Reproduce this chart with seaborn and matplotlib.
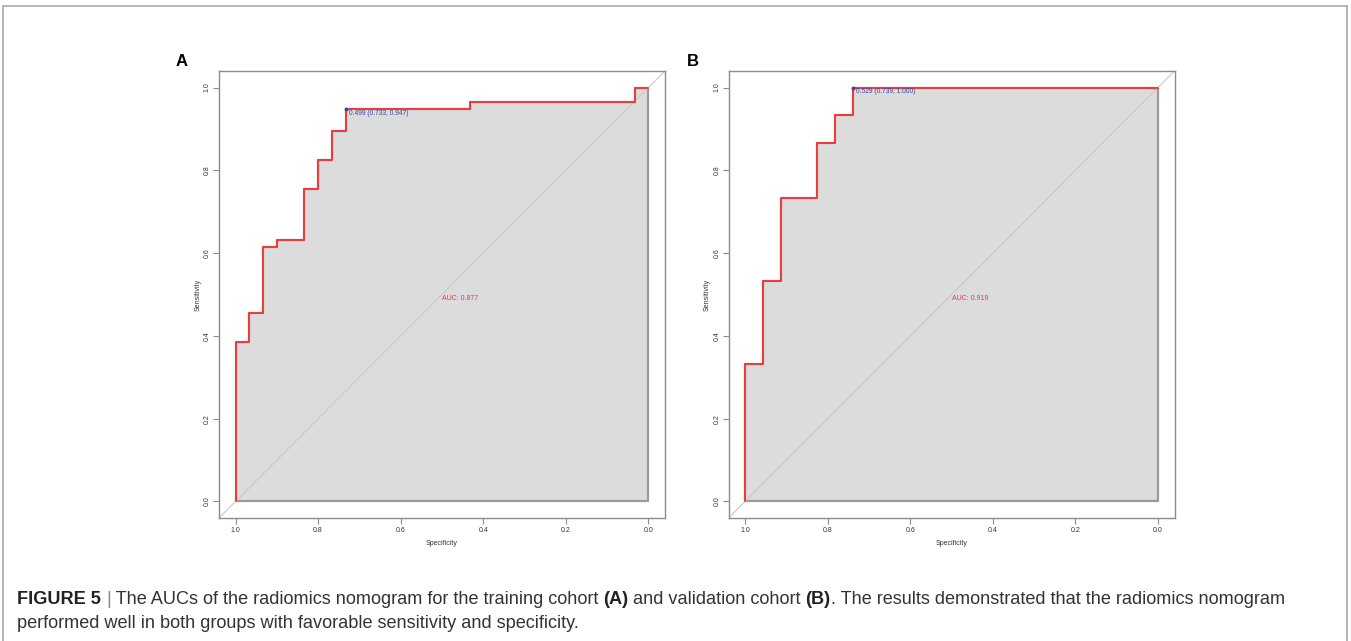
import matplotlib
matplotlib.use("Agg")
import matplotlib.pyplot as plt
import seaborn as sns
import pandas as pd
from matplotlib.lines import Line2D
from matplotlib import font_manager

# ---------------- data ----------------
spec_a = [1.000, 1.000, 0.967, 0.967, 0.933, 0.933, 0.900, 0.900, 0.833, 0.833, 0.800,
          0.800, 0.767, 0.767, 0.733, 0.733, 0.433, 0.433, 0.033, 0.033, 0.000]
sens_a = [0.000, 0.386, 0.386, 0.456, 0.456, 0.614, 0.614, 0.632, 0.632, 0.754, 0.754,
          0.825, 0.825, 0.895, 0.895, 0.947, 0.947, 0.965, 0.965, 1.000, 1.000]
spec_b = [1.000, 1.000, 0.957, 0.957, 0.913, 0.913, 0.826, 0.826, 0.783, 0.783, 0.739, 0.739, 0.000]
sens_b = [0.000, 0.333, 0.333, 0.533, 0.533, 0.733, 0.733, 0.867, 0.867, 0.933, 0.933, 1.000, 1.000]

auc_labels = ["AUC: 0.877", "AUC: 0.919"]
thres_points = [(0.733, 0.947), (0.739, 1.000)]
thres_labels = ["0.499 (0.733, 0.947)", "0.529 (0.739, 1.000)"]
panel_labels = ["A", "B"]
tick_vals = [0.0, 0.2, 0.4, 0.6, 0.8, 1.0]
tick_labels = ["0.0", "0.2", "0.4", "0.6", "0.8", "1.0"]

# ---------------- style ----------------
sns.set_theme(style="white")
plt.rcParams['font.family'] = ['Liberation Sans', 'DejaVu Sans']

W, H = 1351, 641
fig = plt.figure(figsize=(W / 100, H / 100), dpi=100)

RED = "#f03a3a"
BLUE = "#3b44a6"
FILL = "#dcdcdc"
FRAME = "#8c8c8c"


def px_axes(x0, y0, x1, y1):
    return fig.add_axes([x0 / W, 1 - y1 / H, (x1 - x0) / W, (y1 - y0) / H])


frames = [(219, 71, 665, 518), (728.5, 71, 1174.5, 518)]
curves = [(spec_a, sens_a), (spec_b, sens_b)]

for i, ((sx, sy), fr) in enumerate(zip(curves, frames)):
    ax = px_axes(*fr)
    df = pd.DataFrame({"Specificity": sx, "Sensitivity": sy})
    ax.fill_between(df["Specificity"], df["Sensitivity"], 0, color=FILL,
                    edgecolor="#9a9a9a", linewidth=1.6, zorder=1)
    ax.axline((1, 0), (0, 1), color="#c9c9c9", linewidth=0.8, zorder=2)
    sns.lineplot(data=df, x="Specificity", y="Sensitivity", sort=False,
                 estimator=None, color=RED, linewidth=1.4, ax=ax, zorder=3)
    tx, ty = thres_points[i]
    ax.plot([tx], [ty], marker="o", markersize=1.8, color=BLUE, zorder=4)
    ax.annotate(thres_labels[i], (tx, ty), xytext=(2, -0.5), textcoords="offset points",
                ha="left", va="top", fontsize=4.8, color=BLUE, zorder=5)
    ax.text(0.5, 0.5, auc_labels[i], ha="left", va="top", fontsize=5,
            color="#e8393a", zorder=5)

    ax.set_xlim(1.04, -0.04)
    ax.set_ylim(-0.04, 1.04)
    ax.set_xticks(tick_vals)
    ax.set_xticklabels(tick_labels)
    ax.set_yticks(tick_vals)
    ax.set_yticklabels(tick_labels, rotation=90, va="center")
    ax.tick_params(axis="both", which="both", length=4, width=0.8, color=FRAME,
                   labelsize=5, labelcolor="#333333", pad=2.5, direction="out",
                   bottom=True, left=True)
    ax.tick_params(axis="y", pad=1.8)
    ax.set_xlabel("Specificity", fontsize=5, color="#333333", labelpad=4)
    ax.set_ylabel("Sensitivity", fontsize=5, color="#333333", labelpad=2)
    for s in ax.spines.values():
        s.set_color(FRAME)
        s.set_linewidth(1.0)
    ax.set_facecolor("white")

fig.text(176 / W, 1 - 62 / H, panel_labels[0], fontsize=12, fontweight="bold",
         ha="left", va="center", color="black")
fig.text(687 / W, 1 - 62 / H, panel_labels[1], fontsize=12, fontweight="bold",
         ha="left", va="center", color="black")

for xs, ys in [([3, 3], [6, H]), ([3, 1347], [6, 6]), ([1347, 1347], [6, H])]:
    fig.add_artist(Line2D([x / W for x in xs], [1 - y / H for y in ys],
                          color="#aaaaaa", linewidth=1.2))

# caption with mixed weights, auto-fit to the reference width
available = {f.name for f in font_manager.fontManager.ttflist}
cap_family = ['Liberation Sans Narrow', 'Liberation Sans'] if 'Liberation Sans Narrow' in available \
    else ['Liberation Sans']

fig.canvas.draw()
renderer = fig.canvas.get_renderer()

line1 = [("FIGURE 5", True, "#222222"), (" ", False, "#222222"), ("|", False, "#888888"),
         (" The AUCs of the radiomics nomogram for the training cohort ", False, "#333333"),
         ("(A)", True, "#222222"), (" and validation cohort ", False, "#333333"),
         ("(B)", True, "#222222"),
         (". The results demonstrated that the radiomics nomogram", False, "#333333")]
line2 = [("performed well in both groups with favorable sensitivity and specificity.", False, "#333333")]


def write_line(pieces, x0, ybase, fs, keep=True):
    x = x0
    made = []
    for txt, bold, color in pieces:
        t = fig.text(x / W, 1 - ybase / H, txt, fontsize=fs, family=cap_family,
                     fontweight="bold" if bold else "normal", color=color,
                     ha="left", va="baseline")
        bb = t.get_window_extent(renderer=renderer)
        x += bb.width
        made.append(t)
    if not keep:
        for t in made:
            t.remove()
    return x - x0


test_fs = 12.0
w = write_line(line1, 17, 603, test_fs, keep=False)
cap_fs = test_fs * 1276.0 / w
write_line(line1, 17, 604, cap_fs)
write_line(line2, 17, 628, cap_fs)

fig.savefig("out.png", dpi=100)
